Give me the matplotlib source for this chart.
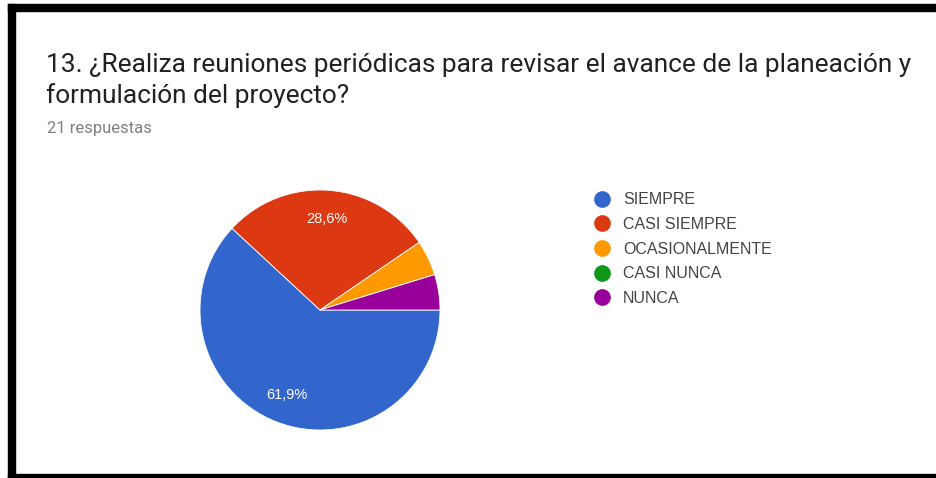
import matplotlib.pyplot as plt
from matplotlib.lines import Line2D
from matplotlib.patches import Rectangle

plt.rcParams['font.family'] = ['Roboto', 'DejaVu Sans']

# datos de la encuesta (21 respuestas)
categorias = ["SIEMPRE", "CASI SIEMPRE", "OCASIONALMENTE", "CASI NUNCA", "NUNCA"]
respuestas = [13, 6, 1, 0, 1]
colores = ["#3366cc", "#dc3912", "#ff9900", "#109618", "#990099"]
titulo = "13. ¿Realiza reuniones periódicas para revisar el avance de la planeación y\nformulación del proyecto?"
subtitulo = "21 respuestas"

W, H = 937, 478
fig = plt.figure(figsize=(W / 100, H / 100), dpi=100)


def fx(px):
    return px / W


def fy(py):
    return 1 - py / H


# marco negro
for x0, y0, x1, y1 in [(8, 4, 15, 478), (8, 4, 937, 11), (8, 474, 937, 478)]:
    fig.patches.append(Rectangle((fx(x0), fy(y1)), fx(x1) - fx(x0), fy(y0) - fy(y1),
                                 transform=fig.transFigure, color="black", zorder=5))

fig.text(fx(46), fy(72), titulo.split("\n")[0], fontsize=18.9, color="#212121",
         va="baseline", ha="left")
fig.text(fx(46), fy(103), titulo.split("\n")[1], fontsize=18.9, color="#212121",
         va="baseline", ha="left")
fig.text(fx(47), fy(128), subtitulo, fontsize=12, color="#808080", va="center", ha="left")


def etiqueta(pct):
    if pct < 10:
        return ""
    return f"{pct:.1f}".replace(".", ",") + "%"


ax = fig.add_axes([fx(200), fy(430), fx(240), 240 / H])
wedges, texts, autotexts = ax.pie(respuestas, colors=colores, startangle=0, counterclock=False,
                                  autopct=etiqueta, pctdistance=0.76,
                                  wedgeprops=dict(edgecolor="white", linewidth=0.6))
for t in autotexts:
    t.set_color("white")
    t.set_fontsize(10.5)
    t.set_family(["Liberation Sans", "DejaVu Sans"])
ax.set_xlim(-1, 1)
ax.set_ylim(-1, 1)
ax.set_aspect("equal")
ax.axis("off")

handles = [Line2D([0], [0], marker="o", color="w", markerfacecolor=c, markeredgecolor=c,
                  markersize=11) for c in colores]
leg = fig.legend(handles, categorias, loc="upper left", bbox_to_anchor=(fx(588), fy(186)),
                 frameon=False, prop={"family": ["Liberation Sans"], "size": 11.5},
                 labelspacing=0.6, handlelength=1.0, handletextpad=0.8, borderaxespad=0)
for t in leg.get_texts():
    t.set_color("#444444")

plt.savefig("out.png", dpi=100)
